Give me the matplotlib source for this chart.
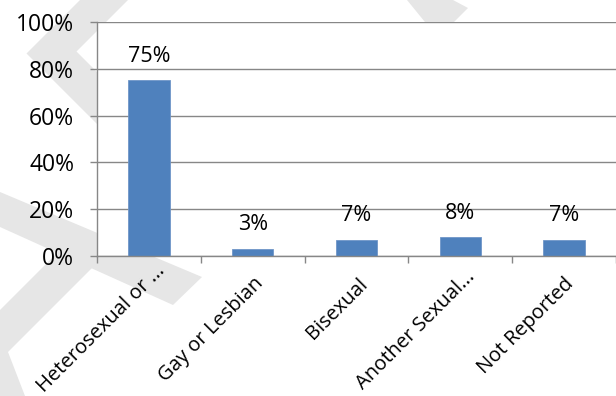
import matplotlib
matplotlib.use('Agg')
import matplotlib.pyplot as plt
from matplotlib.patches import Polygon
from matplotlib.transforms import Affine2D
from matplotlib.ticker import FuncFormatter

# Data
categories = ['Heterosexual or ...', 'Gay or Lesbian', 'Bisexual',
              'Another Sexual...', 'Not Reported']
values = [75, 3, 7, 8, 7]  # percent
y_ticks = [0, 20, 40, 60, 80, 100]

# label offsets (points) for the rotated category labels
label_dx = [12.0, 8.0, 8.5, 11.0, 7.5]
label_dy = [-11.0, -20.5, -20.5, -15.5, -20.5]

plt.rcParams['font.family'] = ['Open Sans', 'DejaVu Sans']
grid_col = '#878787'
bar_col = '#4F81BD'
wm_col = '#e6e6e6'

W, H = 616, 396
fig = plt.figure(figsize=(W / 100, H / 100), dpi=100)
fig.patch.set_facecolor('white')

# faint watermark shapes behind the chart (pixel coords, y down)
px = Affine2D().scale(1 / W, -1 / H).translate(0, 1) + fig.transFigure
shapes = [
    [(80, 0), (128, 0), (76.5, 51.5), (200, 175), (200, 227), (26.5, 53.5)],
    [(407, 0), (453, 0), (468, 8), (438, 38)],
    [(0, 192), (202, 277), (173, 305), (0, 227)],
    [(0, 310), (75, 235), (92, 268), (8, 352), (25, 396), (0, 396)],
]
for pts in shapes:
    fig.add_artist(Polygon(pts, closed=True, transform=px, facecolor=wm_col,
                           edgecolor='none', zorder=-5))

ax = fig.add_axes([97 / W, 1 - 256 / H, (W - 97) / W, (256 - 22) / H])
ax.set_facecolor('white')

x = list(range(len(categories)))
bars = ax.bar(x, values, width=0.4, color=bar_col, edgecolor='#7096c8',
              linewidth=0.6, zorder=3)

for xi, v in zip(x, values):
    ax.annotate(f'{v}%', xy=(xi, v), xytext=(0, 13.5), textcoords='offset points',
                ha='center', va='baseline', fontsize=15.5, color='#000000')

ax.set_xlim(-0.5, len(categories) - 0.5)
ax.set_ylim(0, 100)
ax.set_yticks(y_ticks)
ax.yaxis.set_major_formatter(FuncFormatter(lambda v, p: f'{v:.0f}%'))
ax.tick_params(axis='y', length=5, width=1, color=grid_col, pad=11.5,
               labelsize=16.5)
ax.grid(axis='y', color=grid_col, linewidth=1.0, zorder=0)
ax.set_axisbelow(True)

# category boundaries get the tick marks, labels are drawn separately
ax.set_xticks([i - 0.5 for i in range(len(categories) + 1)])
ax.set_xticklabels([])
ax.tick_params(axis='x', length=5, width=1, color=grid_col)
for xi, lbl, dx, dy in zip(x, categories, label_dx, label_dy):
    ax.annotate(lbl, xy=(xi, 0), xycoords=ax.get_xaxis_transform(),
                xytext=(dx, dy), textcoords='offset points', rotation=45,
                ha='right', va='baseline', rotation_mode='anchor',
                fontsize=14.5, annotation_clip=False)

for side in ['top', 'right']:
    ax.spines[side].set_visible(False)
for side in ['left', 'bottom']:
    ax.spines[side].set_color(grid_col)
    ax.spines[side].set_linewidth(1.0)
    ax.spines[side].set_zorder(4)

plt.savefig('out.png', dpi=100)
